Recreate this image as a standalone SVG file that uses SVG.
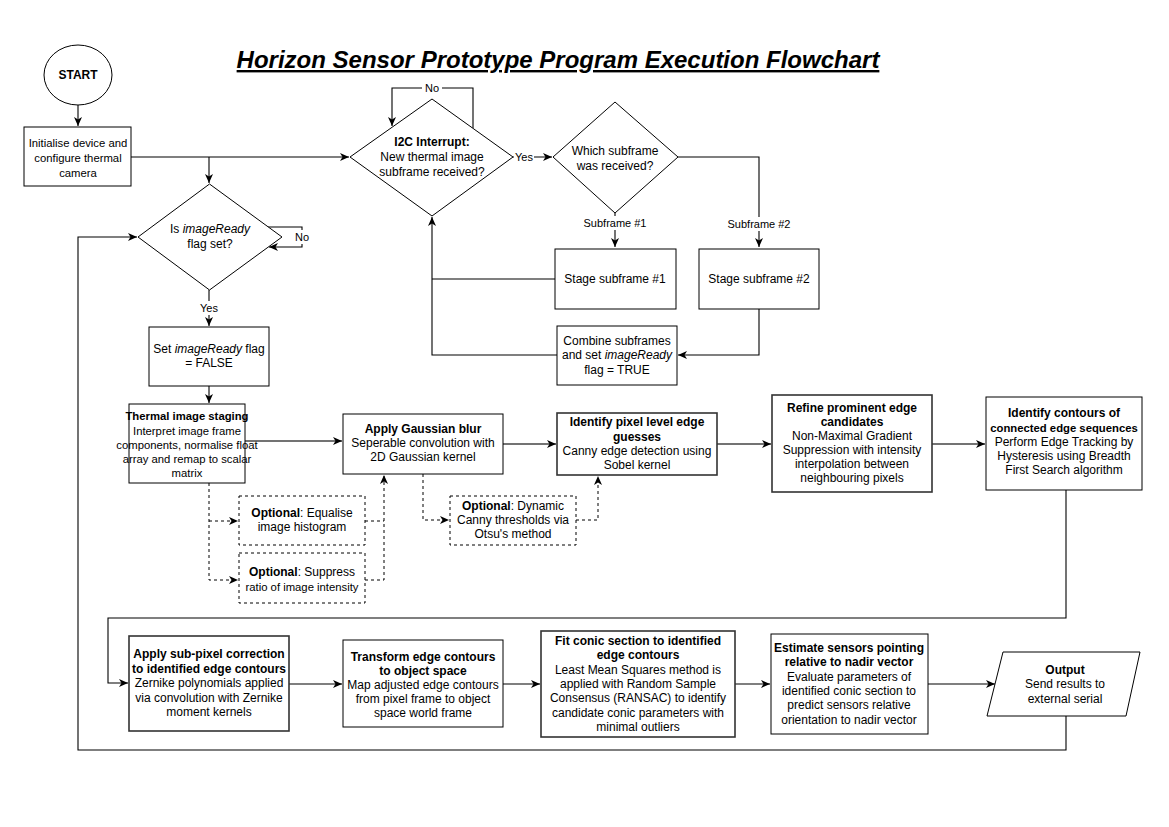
<svg xmlns="http://www.w3.org/2000/svg" width="1169" height="827" viewBox="0 0 1169 827">
<style>
.n{fill:#fff;stroke:#000;stroke-width:1}
.g{fill:#fff;stroke:#333;stroke-width:1.6}
.o{fill:#fff;stroke:#000;stroke-width:1;stroke-dasharray:3,3}
.t{font-family:"Liberation Sans",Arial,sans-serif;font-size:12px;text-anchor:middle;fill:#000}
.s{font-family:"Liberation Sans",Arial,sans-serif;font-size:11px;text-anchor:middle;fill:#000}
.k{font-size:11.3px}
.b{font-weight:bold}
.i{font-style:italic}
.c{fill:none;stroke:#000;stroke-width:1.1}
.cg{fill:none;stroke:#444;stroke-width:1.5}
.cd{fill:none;stroke:#000;stroke-width:1;stroke-dasharray:3,3}
.lb{fill:#fff;stroke:none}
</style>
<defs>
<marker id="a" markerUnits="userSpaceOnUse" markerWidth="10" markerHeight="10" refX="9" refY="4" orient="auto">
<path d="M0,0 L9,4 L0,8 L2.5,4 Z" fill="#000"/>
</marker>
</defs>
<rect width="1169" height="827" fill="#fff"/>
<text x="558" y="68" font-family="'Liberation Sans',Arial,sans-serif" font-size="24" font-weight="bold" font-style="italic" text-decoration="underline" text-anchor="middle">Horizon Sensor Prototype Program Execution Flowchart</text>

<g id="connectors">
<path class="c" d="M78,105 V126" marker-end="url(#a)"/>
<path class="c" d="M131,157 H349" marker-end="url(#a)"/>
<path class="c" d="M209,157 V183" marker-end="url(#a)"/>
<path class="c" d="M473,128 V88 H392 V126" marker-end="url(#a)"/>
<path class="c" d="M513,157 H552" marker-end="url(#a)"/>
<path class="c" d="M615,213 V247" marker-end="url(#a)"/>
<path class="c" d="M678,157 H759 V247" marker-end="url(#a)"/>
<path class="c" d="M759,309 V355 H678" marker-end="url(#a)"/>
<path class="c" d="M555,279 H432"/>
<path class="c" d="M557,355 H432 V217" marker-end="url(#a)"/>
<path class="c" d="M268,227 H302 V247 H269" marker-end="url(#a)"/>
<path class="c" d="M209,290 V326" marker-end="url(#a)"/>
<path class="c" d="M209,386 V403" marker-end="url(#a)"/>
<path class="cg" d="M245,441 H342" marker-end="url(#a)"/>
<path class="cd" d="M209,483 V580 H238" marker-end="url(#a)"/>
<path class="cd" d="M209,521 H238" marker-end="url(#a)"/>
<path class="cd" d="M365,521 H384 M365,580 H384 V475" marker-end="url(#a)"/>
<path class="cd" d="M423,474 V520 H449" marker-end="url(#a)"/>
<path class="cd" d="M576,520 H598 V476" marker-end="url(#a)"/>
<path class="cg" d="M503,444 H556" marker-end="url(#a)"/>
<path class="cg" d="M717,444 H771" marker-end="url(#a)"/>
<path class="cg" d="M932,444 H985" marker-end="url(#a)"/>
<path class="c" d="M1066,490 V618 H108 V683 H128" marker-end="url(#a)"/>
<path class="c" d="M289,684 H342" marker-end="url(#a)"/>
<path class="c" d="M503,684 H540" marker-end="url(#a)"/>
<path class="c" d="M735,684 H770" marker-end="url(#a)"/>
<path class="c" d="M928,684 H995" marker-end="url(#a)"/>
<path class="c" d="M1066,716 V750 H78 V237 H137" marker-end="url(#a)"/>
<rect class="lb" x="422" y="81" width="20" height="14"/>
<text class="s" x="432" y="92">No</text>
<rect class="lb" x="514" y="150" width="20" height="14"/>
<text class="s" x="524" y="161">Yes</text>
<rect class="lb" x="582" y="216" width="66" height="14"/>
<text class="s" x="615" y="227">Subframe #1</text>
<rect class="lb" x="726" y="217" width="66" height="14"/>
<text class="s" x="759" y="228">Subframe #2</text>
<rect class="lb" x="293" y="230" width="18" height="14"/>
<text class="s" x="302" y="241">No</text>
<rect class="lb" x="199" y="301" width="20" height="14"/>
<text class="s" x="209" y="312">Yes</text>
</g>

<g id="start">
<ellipse class="n" cx="78" cy="75" rx="34" ry="30"/>
<text class="t b" x="78" y="79">START</text>
</g>
<g id="init">
<rect class="n" x="24" y="127" width="107" height="59"/>
<text class="t k" x="78" y="147">Initialise device and</text>
<text class="t k" x="78" y="162">configure thermal</text>
<text class="t k" x="78" y="177">camera</text>
</g>
<g id="i2c">
<polygon class="n" points="432,99 513,157 432,216 350,157"/>
<text class="t b" x="432" y="146">I2C Interrupt:</text>
<text class="t" x="432" y="161">New thermal image</text>
<text class="t" x="432" y="176">subframe received?</text>
</g>
<g id="which">
<polygon class="n" points="615,102 678,157 615,213 553,157"/>
<text class="t" x="615" y="155">Which subframe</text>
<text class="t" x="615" y="170">was received?</text>
</g>
<g id="stage1">
<rect class="n" x="555" y="249" width="121" height="60"/>
<text class="t" x="615" y="283">Stage subframe #1</text>
</g>
<g id="stage2">
<rect class="n" x="699" y="249" width="120" height="60"/>
<text class="t" x="759" y="283">Stage subframe #2</text>
</g>
<g id="combine">
<rect class="n" x="557" y="326" width="120" height="59"/>
<text class="t" x="617" y="345">Combine subframes</text>
<text class="t" x="617" y="359">and set <tspan class="i">imageReady</tspan></text>
<text class="t" x="617" y="374">flag = TRUE</text>
</g>
<g id="ready">
<polygon class="n" points="209.5,184 282,237 209.5,290 138,237"/>
<text class="t" x="210" y="233">Is <tspan class="i">imageReady</tspan></text>
<text class="t" x="210" y="248">flag set?</text>
</g>
<g id="setflag">
<rect class="n" x="149" y="327" width="120" height="59"/>
<text class="t" x="209" y="353">Set <tspan class="i">imageReady</tspan> flag</text>
<text class="t" x="209" y="367">= FALSE</text>
</g>
<g id="staging">
<rect class="n" x="129" y="404" width="116" height="79"/>
<text class="t b k" x="187" y="420">Thermal image staging</text>
<text class="t k" x="187" y="435">Interpret image frame</text>
<text class="t k" x="187" y="449">components, normalise float</text>
<text class="t k" x="187" y="463">array and remap to scalar</text>
<text class="t k" x="187" y="477">matrix</text>
</g>
<g id="gaussian">
<rect class="n" x="343" y="414" width="160" height="60"/>
<text class="t b" x="423" y="433">Apply Gaussian blur</text>
<text class="t" x="423" y="447">Seperable convolution with</text>
<text class="t" x="423" y="461">2D Gaussian kernel</text>
</g>
<g id="equalise">
<rect class="o" x="239" y="496" width="126" height="49"/>
<text class="t" x="302" y="517"><tspan class="b">Optional</tspan>: Equalise</text>
<text class="t" x="302" y="531">image histogram</text>
</g>
<g id="suppress">
<rect class="o" x="239" y="553" width="126" height="50"/>
<text class="t" x="302" y="576"><tspan class="b">Optional</tspan>: Suppress</text>
<text class="t k" x="302" y="591">ratio of image intensity</text>
</g>
<g id="dynamic">
<rect class="o" x="450" y="496" width="126" height="49"/>
<text class="t" x="513" y="510"><tspan class="b">Optional</tspan>: Dynamic</text>
<text class="t" x="513" y="524">Canny thresholds via</text>
<text class="t" x="513" y="538">Otsu's method</text>
</g>
<g id="pixel">
<rect class="g" x="557" y="413" width="160" height="62"/>
<text class="t b" x="637" y="426">Identify pixel level edge</text>
<text class="t b" x="637" y="441">guesses</text>
<text class="t" x="637" y="455">Canny edge detection using</text>
<text class="t" x="637" y="469">Sobel kernel</text>
</g>
<g id="refine">
<rect class="g" x="772" y="395" width="160" height="97"/>
<text class="t b" x="852" y="412">Refine prominent edge</text>
<text class="t b" x="852" y="426">candidates</text>
<text class="t" x="852" y="440">Non-Maximal Gradient</text>
<text class="t" x="852" y="454">Suppression with intensity</text>
<text class="t" x="852" y="468">interpolation between</text>
<text class="t" x="852" y="482">neighbouring pixels</text>
</g>
<g id="contours">
<rect class="n" x="986" y="397" width="156" height="93"/>
<text class="t b" x="1064" y="417">Identify contours of</text>
<text class="t b k" x="1064" y="432">connected edge sequences</text>
<text class="t" x="1064" y="446">Perform Edge Tracking by</text>
<text class="t" x="1064" y="460">Hysteresis using Breadth</text>
<text class="t" x="1064" y="474">First Search algorithm</text>
</g>
<g id="subpixel">
<rect class="g" x="129" y="636" width="160" height="95"/>
<text class="t b" x="209" y="658">Apply sub-pixel correction</text>
<text class="t b" x="209" y="673">to identified edge contours</text>
<text class="t" x="209" y="687">Zernike polynomials applied</text>
<text class="t" x="209" y="702">via convolution with Zernike</text>
<text class="t" x="209" y="716">moment kernels</text>
</g>
<g id="transform">
<rect class="n" x="343" y="640" width="160" height="87"/>
<text class="t b" x="423" y="661">Transform edge contours</text>
<text class="t b" x="423" y="675">to object space</text>
<text class="t" x="423" y="689">Map adjusted edge contours</text>
<text class="t" x="423" y="703">from pixel frame to object</text>
<text class="t" x="423" y="717">space world frame</text>
</g>
<g id="conic">
<rect class="g" x="541" y="631" width="194" height="106"/>
<text class="t b" x="638" y="645">Fit conic section to identified</text>
<text class="t b" x="638" y="659">edge contours</text>
<text class="t" x="638" y="674">Least Mean Squares method is</text>
<text class="t" x="638" y="688">applied with Random Sample</text>
<text class="t" x="638" y="702">Consensus (RANSAC) to identify</text>
<text class="t" x="638" y="717">candidate conic parameters with</text>
<text class="t" x="638" y="731">minimal outliers</text>
</g>
<g id="estimate">
<rect class="n" x="771" y="634" width="157" height="100"/>
<text class="t b" x="849" y="652">Estimate sensors pointing</text>
<text class="t b" x="849" y="666">relative to nadir vector</text>
<text class="t" x="849" y="681">Evaluate parameters of</text>
<text class="t" x="849" y="695">identified conic section to</text>
<text class="t" x="849" y="709">predict sensors relative</text>
<text class="t" x="849" y="724">orientation to nadir vector</text>
</g>
<g id="output">
<polygon class="n" points="1003,652 1140,652 1126,716 987,716"/>
<text class="t b" x="1065" y="674">Output</text>
<text class="t" x="1065" y="688">Send results to</text>
<text class="t" x="1065" y="703">external serial</text>
</g>
</svg>
